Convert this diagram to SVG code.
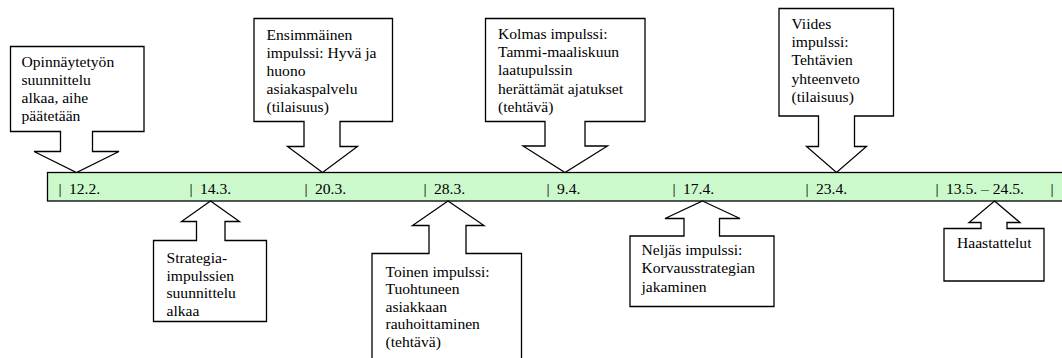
<svg xmlns="http://www.w3.org/2000/svg" width="1062" height="358" viewBox="0 0 1062 358">
<style>
  .shape { fill: #ffffff; stroke: #000000; stroke-width: 1.3; stroke-linejoin: miter; }
  .bar { fill: #ccf9cc; stroke: #000000; stroke-width: 1.3; }
  .t { font-family: "Liberation Serif", "Times New Roman", serif; font-size: 15.6px; fill: #000000; }
</style>
<rect width="1062" height="358" fill="#ffffff"/>

<g id="timeline">
  <rect class="bar" x="47.5" y="172.5" width="1020" height="28.5"/>
  <text class="t"><tspan x="58.5" y="194">|</tspan><tspan x="69" y="194">12.2.</tspan></text>
  <text class="t"><tspan x="189.5" y="194">|</tspan><tspan x="200" y="194">14.3.</tspan></text>
  <text class="t"><tspan x="304.5" y="194">|</tspan><tspan x="315" y="194">20.3.</tspan></text>
  <text class="t"><tspan x="423.5" y="194">|</tspan><tspan x="434" y="194">28.3.</tspan></text>
  <text class="t"><tspan x="546.5" y="194">|</tspan><tspan x="557" y="194">9.4.</tspan></text>
  <text class="t"><tspan x="672.5" y="194">|</tspan><tspan x="683" y="194">17.4.</tspan></text>
  <text class="t"><tspan x="805.5" y="194">|</tspan><tspan x="816" y="194">23.4.</tspan></text>
  <text class="t"><tspan x="935.5" y="194">|</tspan><tspan x="946" y="194">13.5. – 24.5.</tspan></text>
  <text class="t"><tspan x="1050.5" y="194">|</tspan></text>
</g>

<g id="connectors">
</g>

<g id="n1">
  <path class="shape" d="M10.5,46.5 H144 V131.5 H92.5 V151.5 H119 L76.5,172.5 L34,151.5 H60.5 V131.5 H10.5 Z"/>
  <text class="t"><tspan x="21.5" y="66.5">Opinnäytetyön</tspan><tspan x="21.5" y="84.5">suunnittelu</tspan><tspan x="21.5" y="102.5">alkaa, aihe</tspan><tspan x="21.5" y="120.5">päätetään</tspan></text>
</g>

<g id="n2">
  <path class="shape" d="M254,18.5 H392.5 V121.5 H340 V146.5 H357.5 L322.5,172.5 L287.5,146.5 H304 V121.5 H254 Z"/>
  <text class="t"><tspan x="266.5" y="40">Ensimmäinen</tspan><tspan x="266.5" y="58">impulssi: Hyvä ja</tspan><tspan x="266.5" y="76">huono</tspan><tspan x="266.5" y="94">asiakaspalvelu</tspan><tspan x="266.5" y="112">(tilaisuus)</tspan></text>
</g>

<g id="n3">
  <path class="shape" d="M485.5,18.5 H645 V121.5 H585 V146 H607.5 L565,172.5 L523,146 H545 V121.5 H485.5 Z"/>
  <text class="t"><tspan x="498" y="38.5">Kolmas impulssi:</tspan><tspan x="498" y="56.5">Tammi-maaliskuun</tspan><tspan x="498" y="75">laatupulssin</tspan><tspan x="498" y="93.5">herättämät ajatukset</tspan><tspan x="498" y="111.5">(tehtävä)</tspan></text>
</g>

<g id="n4">
  <path class="shape" d="M779,8.5 H893.5 V116 H854.5 V146.5 H866.5 L836.5,172.5 L806.5,146.5 H818.5 V116 H779 Z"/>
  <text class="t"><tspan x="791.5" y="28.5">Viides</tspan><tspan x="791.5" y="47">impulssi:</tspan><tspan x="791.5" y="65">Tehtävien</tspan><tspan x="791.5" y="83.5">yhteenveto</tspan><tspan x="791.5" y="101.5">(tilaisuus)</tspan></text>
</g>

<g id="n5">
  <path class="shape" d="M210.5,201 L239.5,221.5 H225 V240.5 H266.5 V321.5 H153.5 V240.5 H196.5 V221.5 H181.5 Z"/>
  <text class="t"><tspan x="166.5" y="263">Strategia-</tspan><tspan x="166.5" y="280.5">impulssien</tspan><tspan x="166.5" y="298">suunnittelu</tspan><tspan x="166.5" y="315.5">alkaa</tspan></text>
</g>

<g id="n6">
  <path class="shape" d="M448,201 L484,225.5 H466 V253.5 H521.5 V370 H372 V253.5 H429 V225.5 H412.5 Z"/>
  <text class="t"><tspan x="385.5" y="276.5">Toinen impulssi:</tspan><tspan x="385.5" y="294">Tuohtuneen</tspan><tspan x="385.5" y="311.5">asiakkaan</tspan><tspan x="385.5" y="329">rauhoittaminen</tspan><tspan x="385.5" y="346.5">(tehtävä)</tspan></text>
</g>

<g id="n7">
  <path class="shape" d="M702.5,201 L740,218.5 H719.5 V236 H774 V306.5 H630 V236 H684 V218.5 H665 Z"/>
  <text class="t"><tspan x="641.5" y="255">Neljäs impulssi:</tspan><tspan x="641.5" y="273">Korvausstrategian</tspan><tspan x="641.5" y="291.5">jakaminen</tspan></text>
</g>

<g id="n8">
  <path class="shape" d="M994.5,201 L1020,222.5 H1007 V228.5 H1044 V281 H944 V228.5 H981 V222.5 H969 Z"/>
  <text class="t"><tspan x="957" y="247.5">Haastattelut</tspan></text>
</g>
</svg>
